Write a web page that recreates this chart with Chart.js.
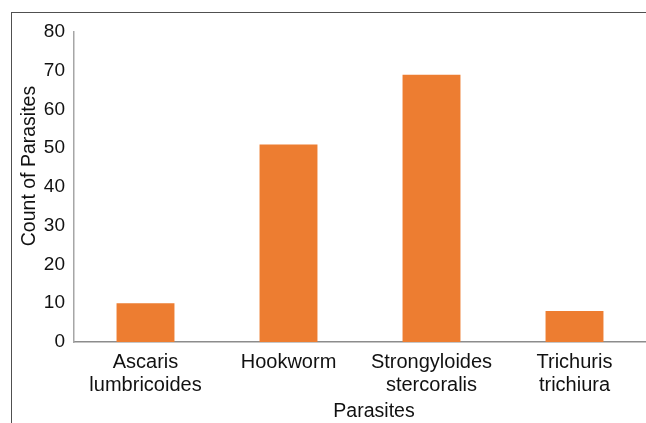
<!DOCTYPE html>
<html>
<head>
<meta charset="utf-8">
<script src="https://cdn.jsdelivr.net/npm/chart.js@4/dist/chart.umd.min.js"></script>
<style>
  html, body { margin: 0; padding: 0; background: #fff; }
  #wrap { position: relative; width: 646px; height: 423px; overflow: hidden; }
  #marco { position: absolute; left: 11px; top: 12px; width: 700px; height: 500px;
           border-left: 1px solid #505050; border-top: 1px solid #505050; }
  #grafico { position: absolute; left: 0; top: 0; }
</style>
</head>
<body>
<div id="wrap">
  <div id="marco"></div>
  <canvas id="grafico" width="646" height="423"></canvas>
</div>
<script>
// datos
const parasitos = [['Ascaris', 'lumbricoides'], 'Hookworm', ['Strongyloides', 'stercoralis'], ['Trichuris', 'trichiura']];
const conteo = [10, 51, 69, 8];
const ticksY = [0, 10, 20, 30, 40, 50, 60, 70, 80];

const tituloX = 'Parasites';
const tituloY = 'Count of Parasites';
const fuente = 'Liberation Sans, Arial, sans-serif';

//dibujo los titulos de los ejes a mano para ubicarlos como en la imagen
const titulosEjes = {
  id: 'titulosEjes',
  afterDraw(chart) {
    const ctx = chart.ctx;
    ctx.save();
    ctx.fillStyle = '#111';
    ctx.font = '19.5px ' + fuente;
    ctx.textAlign = 'center';
    ctx.textBaseline = 'middle';
    ctx.fillText(tituloX, 374, 412);
    ctx.translate(30, 166);
    ctx.rotate(-Math.PI / 2);
    ctx.fillText(tituloY, 0, 0);
    ctx.restore();
  }
};

const ctx = document.getElementById('grafico').getContext('2d');
new Chart(ctx, {
  type: 'bar',
  data: {
    labels: parasitos,
    datasets: [{
      data: conteo,
      backgroundColor: '#ED7D31',
      borderWidth: 0,
      barPercentage: 1,
      categoryPercentage: 0.405
    }]
  },
  options: {
    responsive: false,
    animation: false,
    layout: { padding: { top: 32, right: 0, left: 0, bottom: 0 } },
    plugins: { legend: { display: false }, tooltip: { enabled: false } },
    scales: {
      x: {
        grid: { display: false, drawTicks: false },
        border: { display: true, color: '#8c8c8c', width: 1.5 },
        ticks: {
          color: '#111',
          padding: 9,
          maxRotation: 0,
          autoSkip: false,
          font: { family: fuente, size: 20, lineHeight: 1.15 }
        },
        afterFit: scale => { scale.height = 81; }
      },
      y: {
        min: 0,
        max: 80,
        afterBuildTicks: scale => { scale.ticks = ticksY.map(v => ({ value: v })); },
        grid: { display: false, drawTicks: false },
        border: { display: true, color: '#a6a6a6', width: 1.5 },
        ticks: {
          color: '#111',
          padding: 9,
          font: { family: fuente, size: 19 }
        },
        afterFit: scale => { scale.width = 74; }
      }
    }
  },
  plugins: [titulosEjes]
});
</script>
</body>
</html>
